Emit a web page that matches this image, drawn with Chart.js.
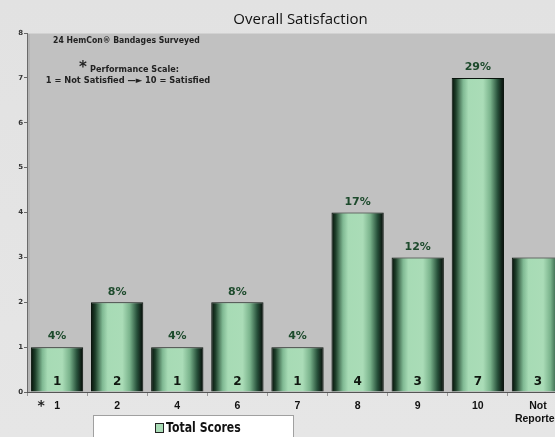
<!DOCTYPE html>
<html>
<head>
<meta charset="utf-8">
<script src="https://cdn.jsdelivr.net/npm/chart.js@4.4.0/dist/chart.umd.min.js"></script>
<style>
  html, body { margin: 0; padding: 0; background: #e2e2e2; overflow: hidden; }
  #wrap { width: 555px; height: 437px; overflow: hidden; }
</style>
</head>
<body>
<div id="wrap"><canvas id="chart-satisfaction" width="602" height="437"></canvas></div>
<script>
var chartTitle = 'Overall Satisfaction';
var scoreLabels = ['1', '2', '4', '6', '7', '8', '9', '10', ['Not', 'Reported']];
var totalScores = [1, 2, 1, 2, 1, 4, 3, 7, 3];
var percentLabels = ['4%', '8%', '4%', '8%', '4%', '17%', '12%', '29%', ''];
var yTicks = [0, 1, 2, 3, 4, 5, 6, 7, 8];

var BAR_PCT = 0.87;

function barGradient(context) {
    var chart = context.chart;
    if (!chart.chartArea || !chart.scales.x) return '#a9dcb6';
    var xs = chart.scales.x;
    var cx = xs.getPixelForValue(context.dataIndex);
    var w = (xs.width / scoreLabels.length) * BAR_PCT;
    var g = chart.ctx.createLinearGradient(cx - w / 2, 0, cx + w / 2, 0);
    g.addColorStop(0, '#050e07');
    g.addColorStop(0.08, '#1e3f2a');
    g.addColorStop(0.22, '#80b993');
    g.addColorStop(0.32, '#a7dbb5');
    g.addColorStop(0.6, '#aadcb7');
    g.addColorStop(0.74, '#7ab38c');
    g.addColorStop(0.88, '#27503a');
    g.addColorStop(1, '#030604');
    return g;
}

// text squeezed horizontally to match the narrow lettering of the original
function squeezeText(ctx, text, x, y, sx) {
    ctx.save();
    ctx.translate(x, y);
    ctx.scale(sx, 1);
    ctx.fillText(text, 0, 0);
    ctx.restore();
}

// background, panel, notes, bar labels, legend box
var decorPlugin = {
    id: 'decor',
    beforeDraw: function (chart) {
        var ctx = chart.ctx, a = chart.chartArea;
        ctx.save();
        var bg = ctx.createLinearGradient(0, 0, 0, chart.height);
        bg.addColorStop(0, '#e2e2e2');
        bg.addColorStop(1, '#e6e6e6');
        ctx.fillStyle = bg;
        ctx.fillRect(0, 0, chart.width, chart.height);
        ctx.fillStyle = '#c1c1c1';
        ctx.fillRect(a.left, a.top, a.right - a.left, a.bottom - a.top);
        ctx.fillStyle = '#b4b4b4';
        ctx.fillRect(a.left, a.top, 3, a.bottom - a.top);
        ctx.fillStyle = '#d2d2d2';
        ctx.fillRect(a.left, a.top, a.right - a.left, 1);
        // title, centred over the plot
        ctx.fillStyle = '#111';
        ctx.font = '15px "Open Sans"';
        ctx.textAlign = 'center';
        ctx.textBaseline = 'middle';
        ctx.fillText(chartTitle, (a.left + a.right) / 2 + 3, 20);
        ctx.restore();
    },
    afterDatasetsDraw: function (chart) {
        var ctx = chart.ctx, a = chart.chartArea;
        var meta = chart.getDatasetMeta(0);
        ctx.save();
        ctx.textAlign = 'center';
        meta.data.forEach(function (bar, i) {
            ctx.fillStyle = '#1d4a2c';
            ctx.font = 'bold 11px "DejaVu Sans"';
            ctx.textBaseline = 'bottom';
            ctx.fillText(percentLabels[i], bar.x, bar.y - 5);
            ctx.fillStyle = '#101810';
            ctx.font = 'bold 12px "DejaVu Sans"';
            ctx.textBaseline = 'middle';
            ctx.fillText(String(totalScores[i]), bar.x, a.bottom - 10);
        });
        ctx.restore();
    },
    afterDraw: function (chart) {
        var ctx = chart.ctx, a = chart.chartArea;
        var xs = chart.scales.x;
        ctx.save();
        ctx.fillStyle = '#222';
        ctx.textBaseline = 'middle';
        ctx.textAlign = 'left';
        ctx.font = 'bold 9px "DejaVu Sans"';
        squeezeText(ctx, '24 HemCon\u00AE Bandages Surveyed', a.left + 26, a.top + 8, 0.86);
        ctx.font = 'bold 15px "DejaVu Sans"';
        ctx.fillText('*', a.left + 52, a.top + 35);
        ctx.font = 'bold 9px "DejaVu Sans"';
        squeezeText(ctx, 'Performance Scale:', a.left + 63, a.top + 37, 0.9);
        ctx.textAlign = 'center';
        squeezeText(ctx, '1 = Not Satisfied \u2014\u25BA 10 = Satisfied', a.left + 101, a.top + 48, 0.92);

        // asterisk by first category
        ctx.font = 'bold 14px "DejaVu Sans"';
        ctx.fillText('*', xs.getPixelForValue(0) - 16, a.bottom + 14);

        // legend box
        ctx.fillStyle = '#ffffff';
        ctx.strokeStyle = '#a0a0a0';
        ctx.lineWidth = 1;
        ctx.fillRect(93.5, 415.5, 200, 30);
        ctx.strokeRect(93.5, 415.5, 200, 30);
        ctx.fillStyle = '#a9dcb6';
        ctx.strokeStyle = '#222';
        ctx.fillRect(155.5, 423.5, 8, 9);
        ctx.strokeRect(155.5, 423.5, 8, 9);
        ctx.fillStyle = '#111';
        ctx.textAlign = 'left';
        ctx.font = 'bold 14px "DejaVu Sans"';
        squeezeText(ctx, chart.data.datasets[0].label, 166, 428, 0.78);
        ctx.restore();
    }
};

var ctx = document.getElementById('chart-satisfaction').getContext('2d');
var satisfactionChart = new Chart(ctx, {
    type: 'bar',
    data: {
        labels: scoreLabels,
        datasets: [{
            label: 'Total Scores',
            data: totalScores,
            backgroundColor: barGradient,
            borderColor: '#0a140d',
            borderWidth: 1,
            barPercentage: BAR_PCT,
            categoryPercentage: 1
        }]
    },
    options: {
        responsive: false,
        animation: false,
        layout: { padding: { left: 0, right: 34, top: 33, bottom: 0 } },
        plugins: {
            legend: { display: false },
            tooltip: { enabled: false },
            title: { display: false }
        },
        scales: {
            y: {
                min: 0,
                max: 8,
                afterBuildTicks: function (scale) {
                    scale.ticks = yTicks.map(function (v) { return { value: v }; });
                },
                afterFit: function (scale) { scale.width = 27; },
                grid: { drawOnChartArea: false, tickLength: 3, color: '#666' },
                border: { color: '#6a6a6a', width: 1 },
                ticks: {
                    color: '#333',
                    padding: 1,
                    font: { family: 'DejaVu Sans', size: 7, weight: 'bold' }
                }
            },
            x: {
                afterFit: function (scale) { scale.height = 45; },
                grid: { drawOnChartArea: false, offset: true, tickLength: 4, color: '#999' },
                border: { color: '#555', width: 1 },
                ticks: {
                    color: '#111',
                    padding: 4,
                    font: { family: 'Liberation Sans', size: 10.5, weight: 'bold' }
                }
            }
        }
    },
    plugins: [decorPlugin]
});
</script>
</body>
</html>
